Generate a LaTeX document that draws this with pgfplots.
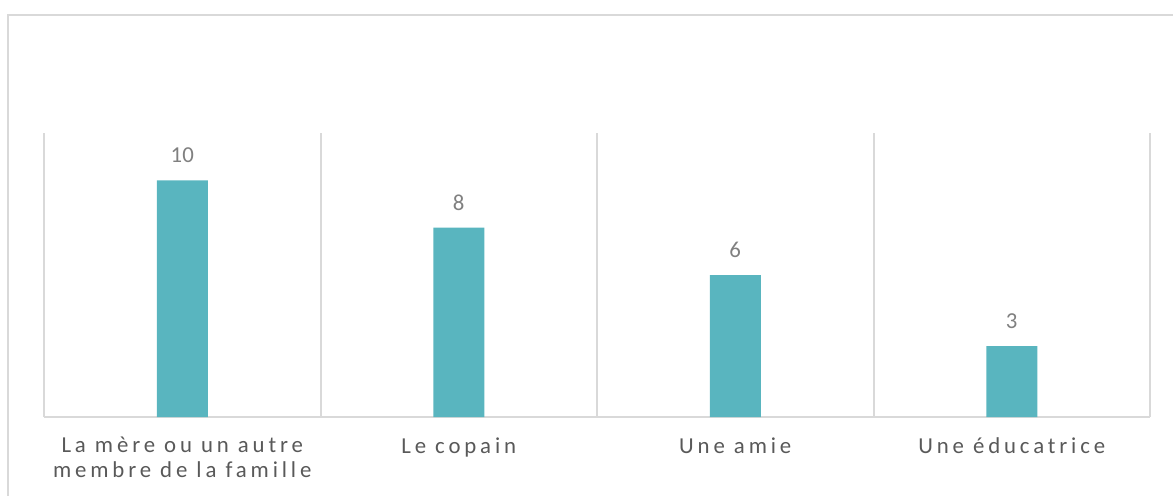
\documentclass[border=0pt]{standalone}
\usepackage{fontspec}
\setmainfont{Carlito}
\newfontfamily\spaced[LetterSpace=17]{Carlito}
\usepackage{pgfplots}
\pgfplotsset{compat=1.18}
\definecolor{barteal}{HTML}{59B5BF}
\definecolor{gridgray}{HTML}{D9D9D9}
\definecolor{labelgray}{HTML}{595959}
\definecolor{numgray}{HTML}{808080}
\begin{document}
\begin{tikzpicture}
\path[use as bounding box] (-22pt,-39pt) rectangle (564.5pt,208.5pt);
\draw[gridgray, line width=1pt] (-18pt,-40pt) -- (-18pt,201pt) -- (566pt,201pt);
\begin{axis}[
 at={(0,0)}, anchor=south west,
 scale only axis, width=553pt, height=142pt,
 ybar, bar width=25.5pt,
 xmin=-0.5, xmax=3.5, ymin=0, ymax=12,
 enlargelimits=false,
 axis line style={draw=none},
 /pgf/number format/assume math mode=true,
 xtick={0,1,2,3},
 xticklabels={{La mère ou un autre\\membre de la famille},Le copain,Une amie,Une éducatrice},
 minor xtick={-0.5,0.5,1.5,2.5,3.5},
 xminorgrids, minor grid style={gridgray, line width=1pt},
 ytick={0}, yticklabels={}, ymajorgrids, major grid style={gridgray, line width=1pt},
 major tick length=0pt, minor tick length=0pt,
 xticklabel style={align=center, anchor=north, inner sep=0pt, yshift=-10pt,
   font=\spaced\fontsize{11.4}{12.5}\selectfont, text=labelgray},
 nodes near coords,
 every node near coord/.append style={anchor=center, yshift=12.5pt,
   font=\fontsize{11.4}{13}\selectfont, text=numgray},
]
\addplot[fill=barteal, draw=none] coordinates {(0,10) (1,8) (2,6) (3,3)};
\end{axis}
\end{tikzpicture}
\end{document}
